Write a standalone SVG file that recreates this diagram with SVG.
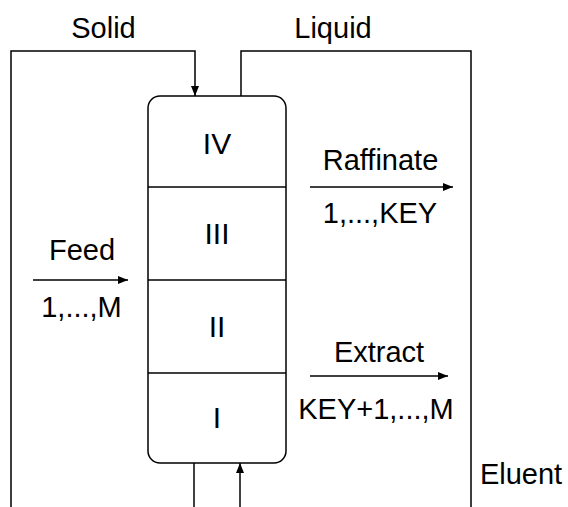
<svg xmlns="http://www.w3.org/2000/svg" width="568" height="507" viewBox="0 0 568 507">
<defs>
<marker id="ah" viewBox="0 0 10 8" refX="10" refY="4" markerWidth="10" markerHeight="8" markerUnits="userSpaceOnUse" orient="auto">
<path d="M0,0 L10,4 L0,8 z" fill="#000"/>
</marker>
<style>
.ln{fill:none;stroke:#000;stroke-width:1.5}
.t{font-family:"Liberation Sans",Arial,sans-serif;font-size:29px;fill:#000;text-anchor:middle}
.n{font-family:"Liberation Sans",Arial,sans-serif;font-size:30px;fill:#000;text-anchor:middle}
</style>
</defs>
<rect width="568" height="507" fill="#fff"/>
<g id="column">
<rect x="148" y="96" width="138" height="367" rx="12" ry="12" class="ln"/>
<line x1="148" y1="187" x2="286" y2="187" class="ln"/>
<line x1="148" y1="280" x2="286" y2="280" class="ln"/>
<line x1="148" y1="373" x2="286" y2="373" class="ln"/>
</g>
<g id="zone4"><text class="n" x="217" y="154">IV</text></g>
<g id="zone3"><text class="n" x="217" y="244">III</text></g>
<g id="zone2"><text class="n" x="217" y="337">II</text></g>
<g id="zone1"><text class="n" x="217" y="428">I</text></g>
<g id="connectors">
<polyline points="11,507 11,51 195,51 195,96" class="ln" marker-end="url(#ah)"/>
<polyline points="241,96 241,51 471,51 471,507" class="ln"/>
<line x1="194" y1="463" x2="194" y2="507" class="ln"/>
<line x1="240" y1="507" x2="240" y2="463" class="ln" marker-end="url(#ah)"/>
<line x1="33" y1="280" x2="128" y2="280" class="ln" marker-end="url(#ah)"/>
<line x1="310" y1="187" x2="453" y2="187" class="ln" marker-end="url(#ah)"/>
<line x1="310" y1="376" x2="448" y2="376" class="ln" marker-end="url(#ah)"/>
</g>
<g id="labels">
<text class="t" x="103.5" y="38">Solid</text>
<text class="t" x="333" y="38">Liquid</text>
<text class="t" x="82" y="260">Feed</text>
<text class="t" x="81.5" y="317">1,...,M</text>
<text class="t" x="380.5" y="170">Raffinate</text>
<text class="t" x="380" y="223">1,...,KEY</text>
<text class="t" x="379" y="362">Extract</text>
<text class="t" x="376" y="419">KEY+1,...,M</text>
<text class="t" x="521" y="484">Eluent</text>
</g>
</svg>
